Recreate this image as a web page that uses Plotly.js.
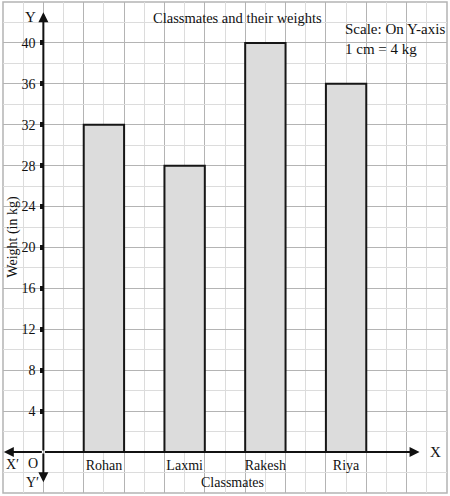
<!DOCTYPE html>
<html><head><meta charset="utf-8">
<script src="https://cdn.plot.ly/plotly-3.0.1.min.js"></script>
<style>html,body{margin:0;padding:0;background:#fff}</style>
</head><body><div id="chart" style="width:450px;height:496px"></div>
<script>
const classmates = ['Rohan', 'Laxmi', 'Rakesh', 'Riya'];
const weights = [32, 28, 40, 36];
const yTickValues = [4, 8, 12, 16, 20, 24, 28, 32, 36, 40];
const yTickLabels = ['4', '8', '12', '16', '20', '24', '28', '32', '36', '40'];
const xTitle = 'Classmates';
const yTitle = 'Weight (in kg)';

const serif = 'Liberation Serif, Times New Roman, serif';
const positions = classmates.map((c, i) => i);

// x ticks: category names at bar centres, blank ticks between them (light grid lines)
const xTickVals = [], xTickText = [];
for (let v = -1; v <= 4; v += 0.5) {
  xTickVals.push(v);
  const k = positions.indexOf(v);
  xTickText.push(k >= 0 ? classmates[k] : '');
}

const dark = '#b4b4b4', light = '#dcdcdc';

const trace = {
  type: 'bar', x: positions, y: weights, width: 0.5,
  marker: {color: '#dcdcdc', line: {color: '#161616', width: 2}},
  hoverinfo: 'skip'
};

function arrow(x, y, ax, ay) {
  return {x: x, y: y, ax: ax, ay: ay, xref: 'x', yref: 'y', axref: 'x', ayref: 'y',
    showarrow: true, arrowhead: 2, arrowsize: 1, arrowwidth: 2, arrowcolor: '#111', text: '', standoff: 0};
}
function label(x, y, text, size, opts) {
  return Object.assign({x: x, y: y, xref: 'x', yref: 'y', text: text, showarrow: false,
    xanchor: 'center', yanchor: 'middle',
    font: {family: serif, size: size, color: '#111'}}, opts || {});
}

const layout = {
  width: 450, height: 496,
  margin: {l: 3, r: 3, t: 2, b: 3},
  paper_bgcolor: '#fff', plot_bgcolor: '#fff',
  showlegend: false,
  xaxis: {
    type: 'linear', range: [-1.25, 4.25], anchor: 'free', position: 4 / 48,
    tickmode: 'array', tickvals: xTickVals, ticktext: xTickText,
    ticks: '', ticklabelstandoff: 3, showline: false, zeroline: false,
    showgrid: true, gridcolor: light, gridwidth: 1,
    minor: {tickmode: 'linear', tick0: -1.25, dtick: 0.5, showgrid: true, gridcolor: dark, gridwidth: 1, ticks: ''},
    tickfont: {family: serif, size: 14, color: '#111'},
    fixedrange: true
  },
  yaxis: {
    range: [-4, 44], anchor: 'free', position: 0.5 / 5.5, side: 'left',
    tickmode: 'array', tickvals: yTickValues, ticktext: yTickLabels,
    ticks: 'outside', ticklen: 3, tickwidth: 5, tickcolor: '#111', ticklabelstandoff: 2,
    showline: false, zeroline: false,
    showgrid: true, gridcolor: dark, gridwidth: 1,
    minor: {tickmode: 'linear', tick0: 2, dtick: 4, showgrid: true, gridcolor: light, gridwidth: 1, ticks: ''},
    tickfont: {family: serif, size: 14, color: '#111'},
    fixedrange: true
  },
  shapes: [
    {type: 'rect', xref: 'paper', yref: 'paper', x0: 0, x1: 1, y0: 0, y1: 1, line: {color: dark, width: 1.5}, layer: 'below'}
  ],
  annotations: [
    arrow(3.91, 0, -0.75, 0),
    arrow(-1.24, 0, -0.75, 0),
    arrow(-0.75, 43.0, -0.75, 0),
    arrow(-0.75, -2.95, -0.75, 0),
    label(-0.913, 42.5, 'Y', 15),
    label(-0.89, -2.93, 'Y′', 14),
    label(-1.136, -1.17, 'X′', 14),
    label(-0.876, -1.08, 'O', 14),
    label(4.11, 0.05, 'X', 15),
    label(1.65, 42.45, 'Classmates and their weights', 14.5),
    label(2.96, 40.4, 'Scale: On Y-axis<br>1 cm = 4 kg', 15, {xanchor: 'left', align: 'left'}),
    {xref: 'paper', yref: 'paper', x: 0.516, y: 0.0224, xanchor: 'center', yanchor: 'middle',
      text: xTitle, showarrow: false, font: {family: serif, size: 14, color: '#111'}},
    {xref: 'paper', yref: 'paper', x: 0.0235, y: 0.523, xanchor: 'center', yanchor: 'middle',
      text: yTitle, showarrow: false, textangle: -90, font: {family: serif, size: 14, color: '#111'}}
  ]
};

Plotly.newPlot('chart', [trace], layout, {displayModeBar: false, staticPlot: true});
</script></body></html>
